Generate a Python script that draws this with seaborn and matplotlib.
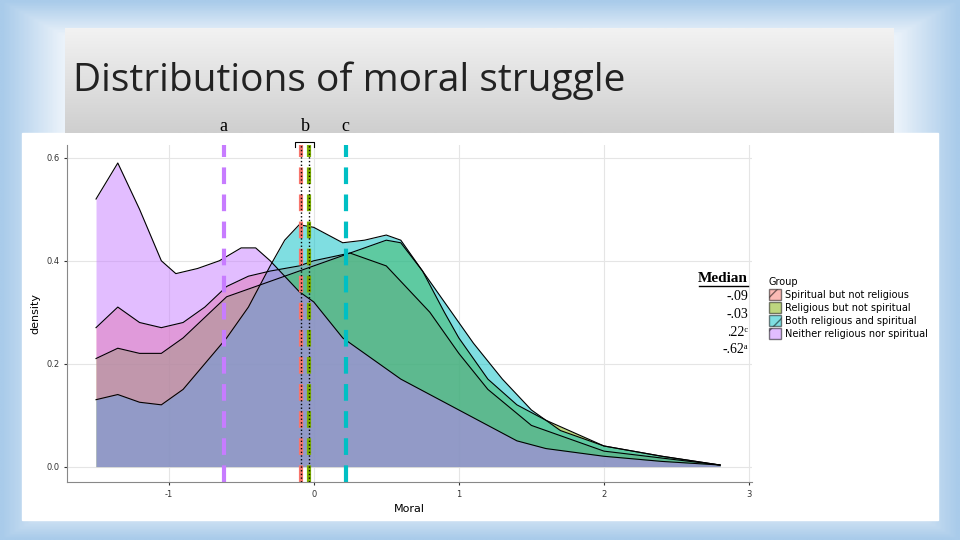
import numpy as np
import pandas as pd
import matplotlib
matplotlib.use("Agg")
import matplotlib.pyplot as plt
import seaborn as sns
from matplotlib.patches import Patch, Rectangle

# ─── Data ─────────────────────────────────────────────────────────────────────
groups = ["Spiritual but not religious", "Religious but not spiritual",
          "Both religious and spiritual", "Neither religious nor spiritual"]
colors = ["#F8766D", "#7CAE00", "#00BFC4", "#C77CFF"]
medians = [-0.09, -0.03, 0.22, -0.62]
median_labels = ["-.09", "-.03", ".22ᶜ", "-.62ᵃ"]

x_sp = [-1.5, -1.35, -1.2, -1.05, -0.9, -0.75, -0.6, -0.45, -0.3, -0.1, 0.0, 0.25, 0.5, 0.8, 1.0, 1.2, 1.5, 2.0, 2.8]
d_sp = [0.27, 0.31, 0.28, 0.27, 0.28, 0.31, 0.35, 0.37, 0.38, 0.39, 0.40, 0.415, 0.39, 0.30, 0.22, 0.15, 0.08, 0.03, 0.003]

x_rel = [-1.5, -1.35, -1.2, -1.05, -0.9, -0.75, -0.6, -0.45, -0.3, -0.1, 0.1, 0.3, 0.5, 0.6, 0.75, 0.9, 1.0, 1.2, 1.4, 1.6, 2.0, 2.4, 2.8]
d_rel = [0.21, 0.23, 0.22, 0.22, 0.25, 0.29, 0.33, 0.345, 0.36, 0.38, 0.40, 0.42, 0.44, 0.435, 0.38, 0.30, 0.25, 0.17, 0.12, 0.09, 0.04, 0.02, 0.003]

x_both = [-1.5, -1.35, -1.2, -1.05, -0.9, -0.75, -0.6, -0.45, -0.3, -0.2, -0.1, 0.0, 0.1, 0.2, 0.35, 0.5, 0.6, 0.75, 0.9, 1.1, 1.3, 1.5, 1.7, 2.0, 2.4, 2.8]
d_both = [0.13, 0.14, 0.125, 0.12, 0.15, 0.20, 0.25, 0.31, 0.39, 0.44, 0.47, 0.465, 0.45, 0.435, 0.44, 0.45, 0.44, 0.38, 0.32, 0.24, 0.17, 0.11, 0.07, 0.04, 0.02, 0.003]

x_nei = [-1.5, -1.35, -1.2, -1.05, -0.95, -0.8, -0.65, -0.5, -0.4, -0.3, -0.2, -0.1, 0.0, 0.2, 0.4, 0.6, 0.8, 1.0, 1.2, 1.4, 1.6, 2.0, 2.4, 2.8]
d_nei = [0.52, 0.59, 0.50, 0.40, 0.375, 0.385, 0.40, 0.425, 0.425, 0.40, 0.37, 0.34, 0.32, 0.25, 0.21, 0.17, 0.14, 0.11, 0.08, 0.05, 0.035, 0.02, 0.01, 0.003]

curves = [(x_sp, d_sp), (x_rel, d_rel), (x_both, d_both), (x_nei, d_nei)]
df = pd.concat([pd.DataFrame({"Moral": xs, "density": ds, "Group": g})
                for (xs, ds), g in zip(curves, groups)])

# ─── Slide background ─────────────────────────────────────────────────────────
fig = plt.figure(figsize=(9.6, 5.4), dpi=100)
bg = fig.add_axes([0, 0, 1, 1])
yy, xx = np.mgrid[-1:1:200j, -1:1:200j]
r = np.maximum(np.abs(xx), np.abs(yy))
bg.imshow(np.clip((r - 0.75) / 0.25, 0, 1), cmap=matplotlib.colors.LinearSegmentedColormap.from_list(
    "s", ["#ffffff", "#eaf2fa", "#a9cbea"]), extent=[0, 1, 0, 1], aspect="auto")
bg.set_xlim(0, 1); bg.set_ylim(0, 1); bg.axis("off")

# title box
tb = fig.add_axes([65 / 960, 1 - 133 / 540, 828 / 960, 105 / 540])
tb.imshow(np.linspace(0, 1, 50)[:, None], cmap=matplotlib.colors.LinearSegmentedColormap.from_list(
    "t", ["#f2f2f2", "#cfcfcf"]), extent=[0, 1, 0, 1], aspect="auto")
tb.axis("off")
tb.text(0.01, 0.5, "Distributions of moral struggle", fontsize=28, family="Open Sans",
        va="center", ha="left", color="#222222")

# white chart area
bg.add_patch(Rectangle((22 / 960, 20 / 540), 916 / 960, 387 / 540, color="white"))

# ─── Density plot ─────────────────────────────────────────────────────────────
ax = fig.add_axes([67 / 960, 58 / 540, 685 / 960, 337 / 540])
ax.set_axisbelow(True)
for (xs, ds), c in zip(curves, colors):
    ax.fill_between(xs, ds, color=c, alpha=0.5, lw=0)
sns.lineplot(data=df, x="Moral", y="density", hue="Group", palette=["black"] * 4,
             lw=0.8, legend=False, ax=ax, sort=False)
for m, c in zip(medians, colors):
    ax.axvline(m, color=c, ls=(0, (4, 2.5)), lw=3)
for m in medians[:2]:
    ax.axvline(m, color="black", ls=":", lw=1)

ax.set_xlim(-1.70, 3.02)
ax.set_ylim(-0.03, 0.625)
ax.set_xticks([-1, 0, 1, 2, 3])
ax.set_xticklabels(["-1", "0", "1", "2", "3"])
ax.set_yticks([0.0, 0.2, 0.4, 0.6])
ax.set_yticklabels(["0.0", "0.2", "0.4", "0.6"])
ax.tick_params(labelsize=6, colors="#333333", length=2)
ax.set_xlabel("Moral", fontsize=8)
ax.set_ylabel("density", fontsize=8)
ax.grid(True, color="#e5e5e5", lw=0.8)
for s in ["top", "right"]:
    ax.spines[s].set_visible(False)
for s in ["left", "bottom"]:
    ax.spines[s].set_color("#888888")

# a / b / c labels
serif = "Liberation Serif"
for lab, xv in [("a", -0.62), ("b", -0.06), ("c", 0.22)]:
    ax.text(xv, 1.03, lab, transform=ax.get_xaxis_transform(), ha="center", va="bottom",
            fontsize=13, family=serif)
ax.plot([-0.13, -0.13, 0.0, 0.0], [0.995, 1.01, 1.01, 0.995],
        transform=ax.get_xaxis_transform(), color="black", lw=0.8, clip_on=False)

# medians text
fig.text(748 / 960, 1 - 278 / 540, "Median", fontsize=11, family=serif, ha="right",
         va="center", weight="bold")
fig.add_artist(plt.Line2D([699 / 960, 748 / 960], [1 - 286 / 540] * 2, color="black", lw=1))
for i, t in enumerate(median_labels):
    fig.text(748 / 960, 1 - (297 + i * 17.5) / 540, t, fontsize=10, family=serif,
             ha="right", va="center")

# legend
handles = [Patch(facecolor=c, alpha=0.5, edgecolor="black", hatch="/") for c in colors]
leg = fig.legend(handles, groups, title="Group", loc="upper left",
                 bbox_to_anchor=(760 / 960, 1 - 268 / 540), frameon=False,
                 fontsize=7, title_fontsize=7, handlelength=1.3, handleheight=1.3,
                 labelspacing=0.25, handletextpad=0.4)
leg._legend_box.align = "left"

plt.savefig("out.png", dpi=100)
